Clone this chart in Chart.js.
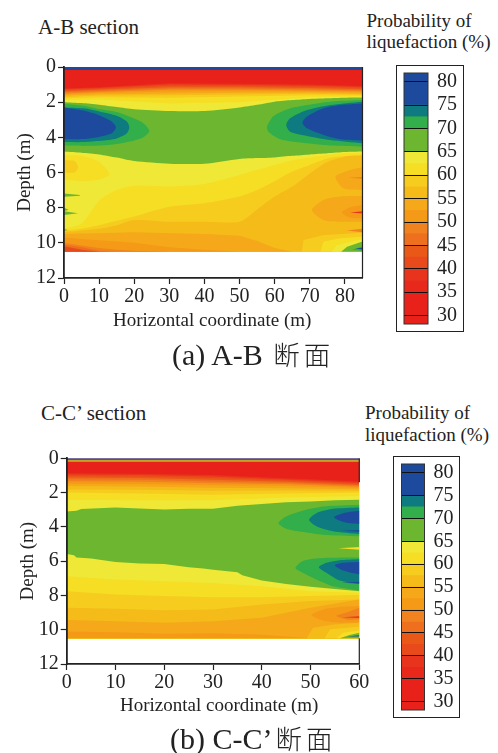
<!DOCTYPE html>
<html>
<head>
<meta charset="utf-8">
<script src="https://cdn.jsdelivr.net/npm/chart.js@4"></script>
<style>
html, body { margin: 0; padding: 0; background: #fff; }
body { width: 498px; height: 753px; position: relative; overflow: hidden; font-family: "Liberation Serif", serif; color: #222; }
canvas, .txt, .box { position: absolute; }
.txt { white-space: nowrap; line-height: 1; }
.box { border: 1.5px solid #222; box-sizing: border-box; }
.cap { font-size: 30px; }
.cap span { font-family: "Noto Sans CJK SC"; font-weight: 300; font-size: 26.5px; letter-spacing: 4px; margin-left: 3px; }
</style>
</head>
<body>
<div class="txt" style="left:38px;top:16.5px;font-size:21px">A-B section</div>
<div class="txt" style="left:366.5px;top:10.5px;font-size:19px">Probability of</div>
<div class="txt" style="left:366.5px;top:31.5px;font-size:19px">liquefaction (%)</div>
<div class="box" style="left:396px;top:65px;width:68px;height:267px"></div>
<canvas id="plotA" style="left:0;top:50px"></canvas>
<canvas id="barA" style="left:396px;top:65px"></canvas>
<div class="txt" style="left:113px;top:309.5px;font-size:19px">Horizontal coordinate (m)</div>
<div class="txt cap" style="left:172px;top:340px">(a) A-B <span>断面</span></div>

<div class="txt" style="left:41px;top:402.5px;font-size:21px">C-C’ section</div>
<div class="txt" style="left:365px;top:402.5px;font-size:19px">Probability of</div>
<div class="txt" style="left:365px;top:424.5px;font-size:19px">liquefaction (%)</div>
<div class="box" style="left:392.5px;top:456px;width:67px;height:262px"></div>
<canvas id="plotB" style="left:0;top:440px"></canvas>
<canvas id="barB" style="left:392.5px;top:456px"></canvas>
<div class="txt" style="left:120px;top:694.5px;font-size:19px">Horizontal coordinate (m)</div>
<div class="txt cap" style="left:170px;top:724px">(b) C-C’<span>断面</span></div>

<script>
// colour scale (low to high)
const barEdges = [28.2, 35, 37.5, 40, 42.5, 45, 47.5, 50, 52.5, 55, 57.5, 60, 62.5, 65, 70, 72.5, 75, 81.85];
const barColors = ['#e9211b', '#e8281b', '#e8341c', '#e94a1b', '#ea5818', '#ee6f1d', '#f08320', '#f59a17',
  '#f5a81a', '#f4bb19', '#f6cc1f', '#f5de23', '#f0e836', '#6cb72f', '#32ae4b', '#0d7b80', '#1d4a9c'];
const [RED, R37, R40, R42, R45, R47, R50, R52, C55, C57, C60, Y62, Y65, GRN, G72, TEAL, BLUE] = barColors;

// ---- A-B section: depth of each contour against horizontal coordinate
const xTopA = [0, 10, 30, 50, 70, 85];
const topA40 = [1.22, 1.15, 0.93, 0.95, 1.00, 1.08];
const topA42 = [1.27, 1.20, 1.00, 1.02, 1.07, 1.14];
const topA45 = [1.32, 1.25, 1.07, 1.08, 1.13, 1.20];
const topA47 = [1.38, 1.30, 1.15, 1.15, 1.20, 1.26];
const topA50 = [1.44, 1.36, 1.22, 1.22, 1.27, 1.32];
const topA52 = [1.50, 1.42, 1.30, 1.30, 1.33, 1.38];
const topA55 = [1.56, 1.48, 1.40, 1.38, 1.39, 1.44];
const topA57 = [1.62, 1.55, 1.50, 1.47, 1.45, 1.50];
const topA60 = [1.70, 1.62, 1.60, 1.56, 1.52, 1.56];
const topA62 = [1.78, 1.72, 1.75, 1.68, 1.60, 1.62];
const topA65 = [1.88, 1.85, 2.08, 2.00, 1.72, 1.68];

const xLowA = [0, 5, 10, 15, 20, 30, 40, 50, 55, 60, 65, 70, 75, 80, 85];
const greenTopA = [2.0, 2.05, 2.15, 2.28, 2.4, 2.5, 2.5, 2.3, 2.15, 1.97, 1.88, 1.82, 1.78, 1.75, 1.74];
const greenEndA = [4.8, 4.87, 4.97, 5.15, 5.35, 5.5, 5.5, 5.23, 5.18, 5.14, 5.05, 4.97, 4.9, 4.83, 4.8];
const lowA62 = [9.2, 8.9, 7.6, 7.0, 6.75, 6.8, 6.65, 6.14, 5.85, 5.57, 5.3, 5.14, 5.0, 4.9, 4.87];
const lowA60 = [9.3, 9.2, 9.0, 8.75, 8.5, 7.95, 7.75, 7.37, 7.0, 6.5, 5.95, 5.57, 5.2, 5.06, 5.0];
const lowA57 = [9.4, 9.3, 9.2, 9.0, 8.7, 8.8, 8.8, 8.8, 8.1, 7.37, 6.8, 6.05, 5.4, 5.1, 5.04];
const lowA55 = [9.5, 9.47, 9.45, 9.42, 9.4, 9.45, 9.5, 9.6, 9.9, 10.3, 10.5, 10.5, 10.5, 10.5, 10.5];
const lowA52 = [9.7, 9.78, 9.85, 9.92, 10.0, 10.25, 10.4, 10.5, 10.5, 10.5, 10.5, 10.5, 10.5, 10.5, 10.5];
const lowA50 = [10.0, 10.15, 10.3, 10.4, 10.45, 10.5, 10.5, 10.5, 10.5, 10.5, 10.5, 10.5, 10.5, 10.5, 10.5];
const lowA47 = [10.1, 10.25, 10.45, 10.5, 10.5, 10.5, 10.5, 10.5, 10.5, 10.5, 10.5, 10.5, 10.5, 10.5, 10.5];
const lowA45 = [10.2, 10.4, 10.5, 10.5, 10.5, 10.5, 10.5, 10.5, 10.5, 10.5, 10.5, 10.5, 10.5, 10.5, 10.5];

// closed contours as [x, depth]
const stripA = [[0, 0], [85, 0], [85, 0.17], [0, 0.17]];
const lensLeftG = [[0, 2.1], [5.5, 2.2], [10.3, 2.4], [15, 2.56], [19.8, 2.92], [22.6, 3.2], [24.3, 3.64], [22.6, 4.0], [19.8, 4.19], [15, 4.38], [10.3, 4.47], [5.5, 4.49], [0, 4.47]];
const lensLeftT = [[0, 2.3], [5.5, 2.35], [10.3, 2.54], [15, 2.77], [17.9, 3.1], [18.6, 3.43], [17.9, 3.77], [15, 4.06], [10.3, 4.2], [5.5, 4.27], [0, 4.27]];
const lensLeftB = [[0, 2.3], [5.5, 2.48], [10.3, 2.77], [13.6, 3.1], [14.8, 3.43], [13.6, 3.77], [10.3, 3.96], [5.5, 4.09], [0, 4.11]];
const lensRightG = [[85, 1.88], [75.8, 1.97], [69.2, 2.16], [64.4, 2.35], [59.7, 2.79], [57.8, 3.39], [58.2, 3.68], [61.6, 4.11], [69.2, 4.34], [75.8, 4.47], [85, 4.53]];
const lensRightT = [[85, 1.97], [75.8, 2.16], [69.2, 2.45], [64.4, 2.92], [63.3, 3.3], [64.4, 3.68], [69.2, 3.92], [75.8, 4.15], [85, 4.34]];
const lensRightB = [[85, 2.07], [78.7, 2.16], [73.9, 2.35], [69.2, 2.82], [67.9, 3.17], [69.2, 3.49], [73.9, 3.87], [78.7, 4.11], [85, 4.19]];
const patchA62 = [[0, 5.0], [5, 5.05], [10, 5.4], [13, 6.1], [10, 6.4], [5, 6.5], [0, 6.4]];
const patchA60 = [[0, 5.3], [3, 5.35], [4, 5.7], [3, 6.0], [0, 6.0]];
const sliverA1 = [[0, 7.2], [4.5, 7.28], [4.5, 7.32], [0, 7.38]];
const sliverA2 = [[0, 8.0], [1.3, 8.12], [0, 8.2]];
const sliverA3 = [[0, 8.2], [4, 8.32], [0, 8.42]];
const sliverA4 = [[0, 9.22], [1.1, 9.27], [0, 9.32]];
const rightUp55 = [[85, 5.7], [81.5, 5.86], [77.3, 6.24], [79.6, 6.9], [85, 7.0]];
const rightUp50 = [[81, 6.3], [85, 6.25], [85, 6.35]];
const rightMid55 = [[85, 7.34], [78.7, 7.37], [73.9, 7.56], [70.6, 8.13], [73.9, 8.7], [78.7, 8.8], [85, 8.8]];
const rightMid52 = [[85, 7.85], [81.5, 7.98], [79.2, 8.27], [81.5, 8.57], [85, 8.6]];
const rightMid40 = [[81.5, 8.27], [85, 8.2], [85, 8.33]];
const rightLow50 = [[80.5, 9.3], [85, 9.2], [85, 9.4]];
const cornerA60 = [[67.7, 10.5], [68.2, 9.84], [73.9, 9.55], [85, 9.42], [85, 10.5]];
const cornerA62 = [[73, 10.5], [73.9, 9.93], [78.7, 9.74], [85, 9.65], [85, 10.5]];
const cornerA65 = [[76.3, 10.5], [77.7, 10.12], [85, 9.8], [85, 10.5]];
const cornerAG = [[78.9, 10.5], [80.6, 10.22], [85, 9.93], [85, 10.5]];
const cornerAG2 = [[82, 10.4], [85, 10.2], [85, 10.45]];
const cornerAB = [[83, 10.32], [85, 10.28], [85, 10.38]];

// ---- C-C' section
const xTopB = [0, 15, 30, 45, 60];
const topB40 = [0.87, 0.90, 0.97, 1.16, 1.36];
const topB42 = [0.95, 0.98, 1.06, 1.24, 1.42];
const topB45 = [1.03, 1.06, 1.15, 1.30, 1.48];
const topB47 = [1.12, 1.15, 1.25, 1.37, 1.54];
const topB50 = [1.22, 1.25, 1.35, 1.44, 1.60];
const topB52 = [1.34, 1.37, 1.45, 1.52, 1.66];
const topB55 = [1.48, 1.50, 1.57, 1.62, 1.73];
const topB57 = [1.62, 1.64, 1.72, 1.74, 1.80];
const topB60 = [1.82, 1.84, 1.90, 1.88, 1.90];
const topB62 = [2.00, 2.05, 2.13, 2.05, 2.00];
const topB65 = [2.42, 2.45, 2.45, 2.28, 2.20];

const xGreenTopB = [0, 2, 3, 10, 20, 25, 30, 35, 40, 45, 50, 55, 60];
const greenTopB = [3.1, 3.06, 2.96, 2.87, 2.98, 2.95, 2.95, 2.77, 2.67, 2.56, 2.52, 2.44, 2.42];
const xGreenEndB = [0, 1.5, 2, 5, 10, 15, 20, 25, 28, 30, 35, 36, 40, 45, 50, 55, 60];
const greenEndB = [5.58, 5.66, 5.78, 5.85, 6.05, 6.14, 6.16, 6.36, 6.43, 6.5, 6.65, 6.82, 7.13, 7.33, 7.5, 7.62, 7.75];
const xLowB = [0, 10, 20, 30, 40, 50, 60];
const lowB62 = [6.88, 7.07, 7.17, 7.27, 7.46, 7.75, 7.85];
const lowB60 = [7.75, 7.95, 8.04, 8.1, 8.1, 8.04, 7.98];
const lowB57 = [8.72, 8.78, 8.86, 8.82, 8.53, 8.33, 8.24];
const lowB55 = [9.44, 9.5, 9.59, 9.5, 9.3, 8.72, 8.24];
const lowB52 = [10.1, 10.15, 10.23, 10.2, 10.3, 10.5, 10.5];

const stripB = [[0, 0], [60, 0], [60, 0.09], [0, 0.09]];
const stripB2 = [[0, 0.09], [60, 0.09], [60, 0.13], [0, 0.13]];
const stripB3 = [[0, 0.13], [60, 0.13], [60, 0.18], [0, 0.18]];
const upperG = [[60, 2.71], [52.6, 2.81], [48.5, 3.04], [45, 3.39], [43.4, 3.78], [45, 4.11], [48.5, 4.3], [52.6, 4.46], [60, 4.55]];
const upperT = [[60, 2.87], [54.6, 2.95], [51.2, 3.2], [49.7, 3.59], [51.2, 3.97], [54.6, 4.26], [60, 4.42]];
const upperB = [[60, 3.06], [56.7, 3.2], [54.8, 3.43], [56.7, 3.72], [60, 3.84]];
const upperB2 = [[56.3, 4.22], [60, 4.18], [60, 4.28]];
const sliverB = [[55.7, 5.25], [60, 5.18], [60, 5.34]];
const lowerG = [[60, 5.78], [52.6, 5.81], [48.5, 5.97], [46.9, 6.4], [48.5, 6.69], [51.2, 7.07], [54.6, 7.46], [60, 7.71]];
const lowerT = [[60, 5.89], [56, 5.95], [53.3, 6.1], [51.7, 6.36], [53.3, 6.69], [56, 7.13], [60, 7.33]];
const lowerB = [[60, 6.05], [56.7, 6.1], [55, 6.24], [56.7, 6.55], [60, 6.78]];
const lowerB2 = [[56.3, 7.26], [60, 7.2], [60, 7.3]];
const rightB52 = [[60, 8.62], [56, 8.68], [52.6, 8.82], [50.2, 9.15], [52.6, 9.46], [56, 9.59], [60, 9.59]];
const rightB50 = [[60, 8.72], [57.4, 9.0], [55.3, 9.2], [57.4, 9.4], [60, 9.4]];
const rightB40 = [[56.5, 9.27], [60, 9.22], [60, 9.32]];
const cornerB57 = [[49.2, 10.5], [50.5, 9.88], [54.6, 9.69], [60, 9.59], [60, 10.5]];
const cornerB60 = [[52.9, 10.5], [54, 9.98], [60, 9.83], [60, 10.5]];
const cornerB62 = [[55.3, 10.5], [56.7, 10.17], [60, 10.04], [60, 10.5]];
const cornerBG = [[56, 10.5], [58, 10.31], [60, 10.17], [60, 10.5]];
const cornerBB = [[57.5, 10.4], [60, 10.33], [60, 10.4]];

const SOIL_BOTTOM = 10.5;
const SMOOTH = 0.25;
const serif = 'Liberation Serif';
const ink = '#222';

// open contour: everything below the line down to the bottom of the section gets the colour
function band(xs, depths, color, tension) {
  return {
    data: xs.map((x, i) => ({x: x, y: depths[i]})),
    showLine: true, pointRadius: 0, borderWidth: 0, tension: tension || 0,
    backgroundColor: color, fill: {value: SOIL_BOTTOM}
  };
}

// closed contour
function blob(points, color, tension) {
  return {
    data: points.map(p => ({x: p[0], y: p[1]})),
    showLine: true, pointRadius: 0, borderWidth: 0, tension: tension || 0,
    backgroundColor: color, fill: 'shape'
  };
}

function edge(x, from, to) {
  return {
    data: [{x: x, y: from}, {x: x, y: to}],
    showLine: true, pointRadius: 0, borderWidth: 1.2, borderColor: ink, fill: false, clip: false
  };
}

function drawPlot(id, w, h, box, xMax, layers) {
  const canvas = document.getElementById(id);
  canvas.width = w;
  canvas.height = h;
  // paint in listed order, later layers over earlier ones
  layers.forEach((d, i) => { d.order = layers.length - i; });
  return new Chart(canvas, {
    type: 'scatter',
    data: {datasets: layers},
    options: {
      responsive: false,
      animation: false,
      layout: {padding: {top: box.top, right: box.right, left: 0, bottom: 0}},
      plugins: {legend: {display: false}, tooltip: {enabled: false}},
      scales: {
        x: {
          type: 'linear', min: 0, max: xMax,
          afterFit: s => { s.height = box.bottom; },
          grid: {drawOnChartArea: false, tickLength: 6, tickColor: ink, tickWidth: 1.2},
          border: {color: ink, width: 1.8, z: 1},
          ticks: {stepSize: 10, maxRotation: 0, padding: 1, color: ink, font: {family: serif, size: 20}, includeBounds: false}
        },
        y: {
          type: 'linear', min: 0, max: 12, reverse: true,
          afterFit: s => { s.width = box.left; },
          grid: {drawOnChartArea: false, tickLength: 6, tickColor: ink, tickWidth: 1.2},
          border: {color: ink, width: 1.8, z: 1},
          ticks: {stepSize: 2, padding: 2, color: ink, font: {family: serif, size: 20}},
          title: {display: true, text: 'Depth (m)', color: ink, padding: {top: box.titleLeft, bottom: 0}, font: {family: serif, size: 19}}
        }
      }
    }
  });
}

function drawBar(id, w, h, box) {
  const canvas = document.getElementById(id);
  canvas.width = w;
  canvas.height = h;
  const frame = {
    id: 'frame',
    afterDraw(chart) {
      const a = chart.chartArea, ctx = chart.ctx;
      ctx.save();
      ctx.strokeStyle = '#333';
      ctx.lineWidth = 1;
      ctx.strokeRect(a.left, a.top, a.right - a.left, a.bottom - a.top);
      ctx.restore();
    }
  };
  return new Chart(canvas, {
    type: 'bar',
    data: {
      labels: [''],
      datasets: barColors.map((c, i) => ({
        data: [[barEdges[i], barEdges[i + 1]]],
        backgroundColor: c, borderWidth: 0, grouped: false,
        barPercentage: 1, categoryPercentage: 1
      }))
    },
    plugins: [frame],
    options: {
      responsive: false,
      animation: false,
      layout: {padding: {top: box.top, bottom: box.bottom, left: box.left, right: 0}},
      plugins: {legend: {display: false}, tooltip: {enabled: false}},
      scales: {
        x: {display: false},
        y: {
          position: 'right', min: barEdges[0], max: barEdges[barEdges.length - 1],
          afterFit: s => { s.width = box.labels; s.paddingTop = 0; s.paddingBottom = 0; },
          grid: {color: '#111', z: 1, drawTicks: false, lineWidth: 1},
          border: {display: false},
          ticks: {stepSize: 5, padding: 9, autoSkip: false, includeBounds: false, color: ink, font: {family: serif, size: 20}}
        }
      }
    }
  });
}

drawPlot('plotA', 370, 281, {top: 17, right: 7.5, left: 64, bottom: 53, titleLeft: 14}, 85, [
  band([0, 85], [0, 0], RED),
  band(xTopA, topA40, R40), band(xTopA, topA42, R42), band(xTopA, topA45, R45), band(xTopA, topA47, R47),
  band(xTopA, topA50, R50), band(xTopA, topA52, R52), band(xTopA, topA55, C55), band(xTopA, topA57, C57),
  band(xTopA, topA60, C60), band(xTopA, topA62, Y62), band(xTopA, topA65, Y65),
  band(xLowA, greenTopA, GRN, SMOOTH), band(xLowA, greenEndA, Y65, SMOOTH),
  band(xLowA, lowA62, Y62, SMOOTH), band(xLowA, lowA60, C60, SMOOTH), band(xLowA, lowA57, C57, SMOOTH), band(xLowA, lowA55, C55),
  band(xLowA, lowA52, R52), band(xLowA, lowA50, R50), band(xLowA, lowA47, R47), band(xLowA, lowA45, R42),
  blob(stripA, BLUE),
  blob(lensLeftG, G72, SMOOTH), blob(lensLeftT, TEAL, SMOOTH), blob(lensLeftB, BLUE, SMOOTH),
  blob(lensRightG, G72, SMOOTH), blob(lensRightT, TEAL, SMOOTH), blob(lensRightB, BLUE, SMOOTH),
  blob(patchA62, Y62, SMOOTH), blob(patchA60, C60, SMOOTH),
  blob(sliverA1, GRN), blob(sliverA2, GRN), blob(sliverA3, GRN), blob(sliverA4, GRN),
  blob(rightUp55, C55, SMOOTH), blob(rightUp50, R50),
  blob(rightMid55, C55, SMOOTH), blob(rightMid52, R52, SMOOTH), blob(rightMid40, R40), blob(rightLow50, R50),
  blob(cornerA60, C60), blob(cornerA62, Y62), blob(cornerA65, Y65), blob(cornerAG, GRN), blob(cornerAG2, G72), blob(cornerAB, BLUE),
  edge(85, 0, 12)
]);

drawPlot('plotB', 372, 275.7, {top: 18.3, right: 12.7, left: 66.7, bottom: 51, titleLeft: 17}, 60, [
  band([0, 60], [0, 0], RED),
  band(xTopB, topB40, R40), band(xTopB, topB42, R42), band(xTopB, topB45, R45), band(xTopB, topB47, R47),
  band(xTopB, topB50, R50), band(xTopB, topB52, R52), band(xTopB, topB55, C55), band(xTopB, topB57, C57),
  band(xTopB, topB60, C60), band(xTopB, topB62, Y62), band(xTopB, topB65, Y65),
  band(xGreenTopB, greenTopB, GRN), band(xGreenEndB, greenEndB, Y65),
  band(xLowB, lowB62, Y62), band(xLowB, lowB60, C60), band(xLowB, lowB57, C57), band(xLowB, lowB55, C55),
  band(xLowB, lowB52, R52),
  blob(stripB, BLUE), blob(stripB2, G72), blob(stripB3, Y62),
  blob(upperG, G72, SMOOTH), blob(upperT, TEAL, SMOOTH), blob(upperB, BLUE, SMOOTH), blob(upperB2, BLUE),
  blob(sliverB, Y62),
  blob(lowerG, G72, SMOOTH), blob(lowerT, TEAL, SMOOTH), blob(lowerB, BLUE, SMOOTH), blob(lowerB2, BLUE),
  blob(rightB52, R52, SMOOTH), blob(rightB50, R50, SMOOTH), blob(rightB40, R40),
  blob(cornerB57, C57), blob(cornerB60, C60), blob(cornerB62, Y62), blob(cornerBG, GRN), blob(cornerBB, BLUE),
  edge(60, 0, 1.4), edge(60, 10.5, 12)
]);

drawBar('barA', 68, 267, {top: 8, bottom: 8, left: 8, labels: 36});
drawBar('barB', 67, 262, {top: 8, bottom: 8, left: 8.5, labels: 35.5});
</script>
</body>
</html>
